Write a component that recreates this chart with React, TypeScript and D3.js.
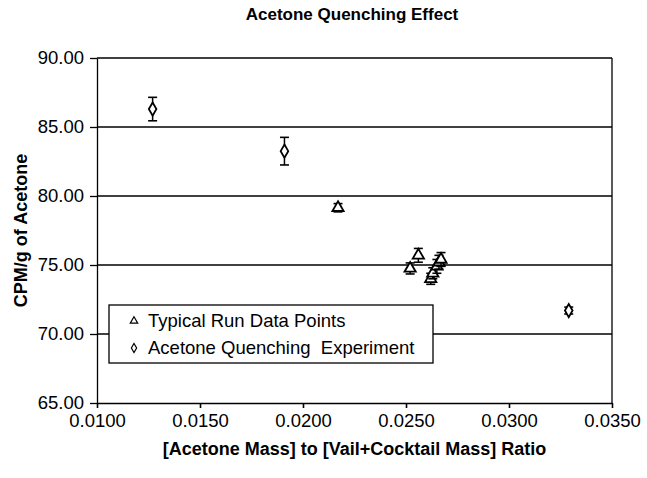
import React, { useRef, useEffect } from 'react';
import * as d3 from 'd3';

// Typical run points (triangles): ratio, CPM/g, error
const typicalRatio = [0.0217, 0.0252, 0.0256, 0.0262, 0.0263, 0.0265, 0.0266, 0.0267];
const typicalCpm = [79.15, 74.75, 75.7, 74.0, 74.4, 74.9, 75.2, 75.4];
const typicalErr = [0.3, 0.4, 0.5, 0.4, 0.4, 0.5, 0.5, 0.5];

// Acetone quenching experiment points (diamonds)
const quenchRatio = [0.0127, 0.0191, 0.0329];
const quenchCpm = [86.3, 83.25, 71.7];
const quenchErr = [0.85, 1.0, 0.25];

const xTicks = [0.01, 0.015, 0.02, 0.025, 0.03, 0.035];
const yTicks = [65, 70, 75, 80, 85, 90];

const legendLabels = ['Typical Run Data Points', 'Acetone Quenching  Experiment'];

const App = () => {
  const svgRef = useRef<SVGSVGElement>(null);

  useEffect(() => {
    const width = 647;
    const height = 478;
    const margin = { top: 58, right: 35, bottom: 75, left: 97 };
    const font = '"Liberation Sans", Arial, sans-serif';

    const svg = d3.select(svgRef.current)
      .attr('width', width)
      .attr('height', height)
      .style('background', 'white');

    svg.selectAll('*').remove();

    const xScale = d3.scaleLinear().domain([0.01, 0.035]).range([margin.left, width - margin.right]);
    const yScale = d3.scaleLinear().domain([65, 90]).range([height - margin.bottom, margin.top]);

    // gridlines
    svg.append('g')
      .selectAll('line')
      .data(yTicks.filter(t => t > 65))
      .join('line')
      .attr('x1', xScale(0.01))
      .attr('x2', xScale(0.035))
      .attr('y1', d => yScale(d))
      .attr('y2', d => yScale(d))
      .attr('stroke', 'black')
      .attr('stroke-width', 1.6);

    // right border
    svg.append('line')
      .attr('x1', xScale(0.035)).attr('x2', xScale(0.035))
      .attr('y1', yScale(90)).attr('y2', yScale(65))
      .attr('stroke', 'black').attr('stroke-width', 1.3);

    const yAxis = d3.axisLeft(yScale).tickValues(yTicks).tickFormat(d3.format('.2f')).tickSize(7).tickSizeOuter(0);
    const xAxis = d3.axisBottom(xScale).tickValues(xTicks).tickFormat(d3.format('.4f')).tickSize(5).tickSizeOuter(0);

    const gy = svg.append('g')
      .attr('transform', `translate(${margin.left},0)`)
      .call(yAxis);
    gy.selectAll('text')
      .attr('fill', 'black')
      .attr('x', -13)
      .style('font-family', font)
      .style('font-size', '18.5px');
    gy.selectAll('path, line').attr('stroke', 'black').attr('stroke-width', 1.3);

    const gx = svg.append('g')
      .attr('transform', `translate(0,${height - margin.bottom})`)
      .call(xAxis);
    gx.selectAll('text')
      .attr('fill', 'black')
      .attr('y', 11)
      .style('font-family', font)
      .style('font-size', '18.5px');
    gx.selectAll('path, line').attr('stroke', 'black').attr('stroke-width', 1.6);

    // title + axis titles
    svg.append('text')
      .attr('text-anchor', 'middle')
      .attr('x', 352)
      .attr('y', 20)
      .attr('font-weight', 'bold')
      .style('font-family', font)
      .style('font-size', '17px')
      .text('Acetone Quenching Effect');

    svg.append('text')
      .attr('text-anchor', 'middle')
      .attr('x', (margin.left + width - margin.right) / 2)
      .attr('y', 455)
      .attr('font-weight', 'bold')
      .style('font-family', font)
      .style('font-size', '18px')
      .text('[Acetone Mass] to [Vail+Cocktail Mass] Ratio');

    svg.append('text')
      .attr('text-anchor', 'middle')
      .attr('transform', `translate(27,${(margin.top + height - margin.bottom) / 2}) rotate(-90)`)
      .attr('font-weight', 'bold')
      .style('font-family', font)
      .style('font-size', '18px')
      .text('CPM/g of Acetone');

    // error bars + markers
    const drawSeries = (xs: number[], ys: number[], es: number[], type: d3.SymbolType, size: number) => {
      const g = svg.append('g');
      xs.forEach((x, i) => {
        const cx = xScale(x);
        const top = yScale(ys[i] + es[i]);
        const bot = yScale(ys[i] - es[i]);
        g.append('line').attr('x1', cx).attr('x2', cx).attr('y1', top).attr('y2', bot)
          .attr('stroke', 'black').attr('stroke-width', 1.5);
        [top, bot].forEach(yy => {
          g.append('line').attr('x1', cx - 4.5).attr('x2', cx + 4.5).attr('y1', yy).attr('y2', yy)
            .attr('stroke', 'black').attr('stroke-width', 1.6);
        });
        g.append('path')
          .attr('d', d3.symbol().type(type).size(size)())
          .attr('transform', `translate(${cx},${yScale(ys[i])})`)
          .attr('fill', 'white')
          .attr('stroke', 'black')
          .attr('stroke-width', 1.8);
      });
    };

    drawSeries(typicalRatio, typicalCpm, typicalErr, d3.symbolTriangle, 55);
    drawSeries(quenchRatio, quenchCpm, quenchErr, d3.symbolDiamond, 50);

    // legend
    const lg = svg.append('g').attr('transform', 'translate(109,305)');
    lg.append('rect')
      .attr('width', 324)
      .attr('height', 58)
      .attr('fill', 'white')
      .attr('stroke', 'black')
      .attr('stroke-width', 1.3);
    const legendTypes = [d3.symbolTriangle, d3.symbolDiamond];
    legendLabels.forEach((label, i) => {
      const yy = 16 + i * 27;
      lg.append('path')
        .attr('d', d3.symbol().type(legendTypes[i]).size(24)())
        .attr('transform', `translate(25,${yy})`)
        .attr('fill', 'white')
        .attr('stroke', 'black')
        .attr('stroke-width', 1.2);
      lg.append('text')
        .attr('x', 39)
        .attr('y', yy + 6)
        .attr('fill', 'black')
        .style('font-family', font)
        .style('font-size', '18.5px')
        .style('white-space', 'pre')
        .text(label);
    });
  }, []);

  return (
    <div style={{ position: 'absolute', left: 0, top: 0, background: 'white' }}>
      <svg ref={svgRef} style={{ display: 'block' }}></svg>
    </div>
  );
};

export default App;
